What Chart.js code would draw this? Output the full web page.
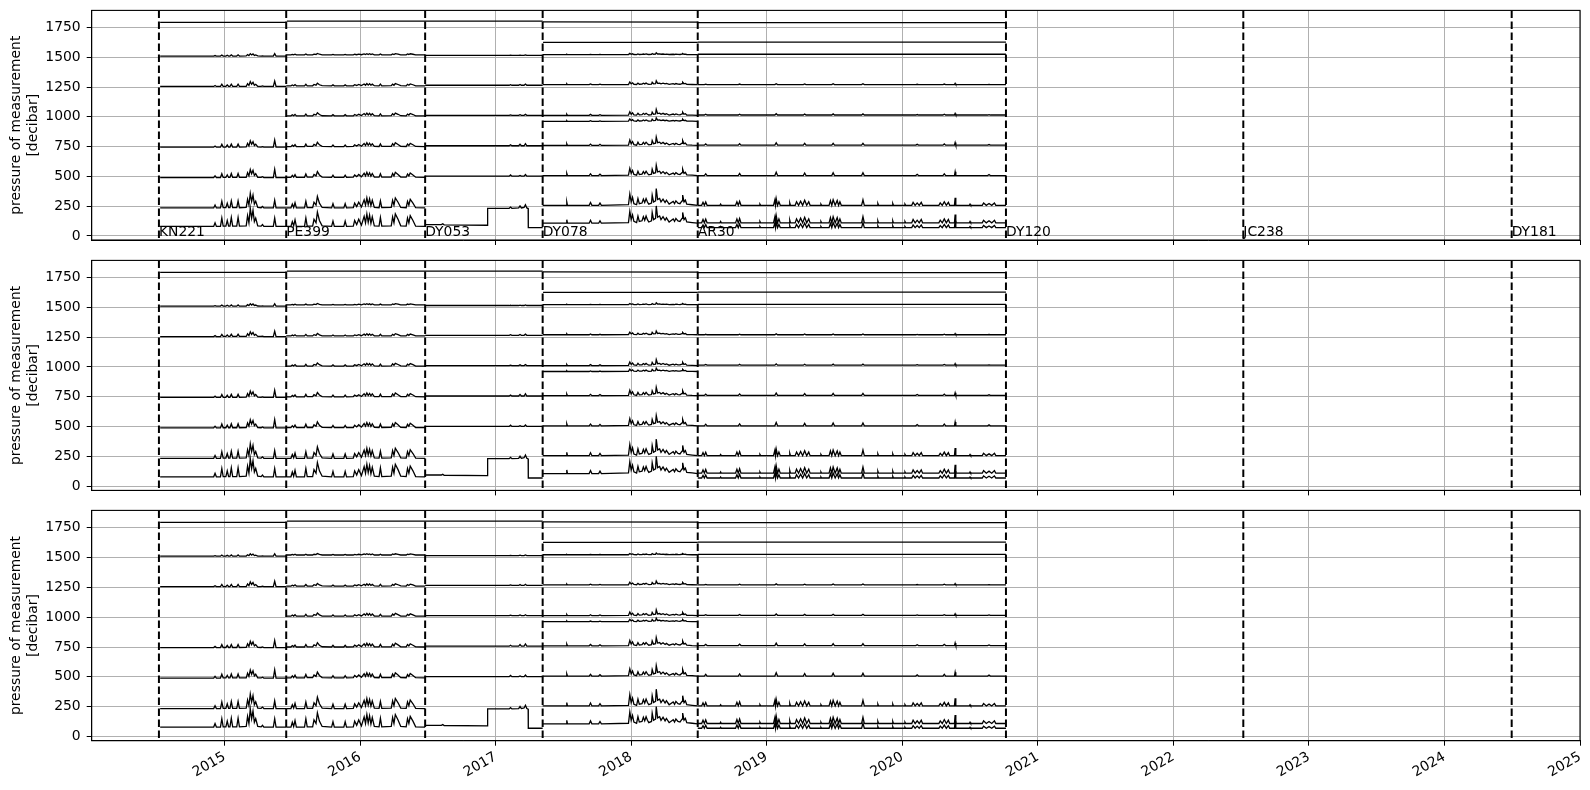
<!DOCTYPE html>
<html><head><meta charset="utf-8">
<script src="https://cdn.jsdelivr.net/npm/chart.js@4.4.1/dist/chart.umd.min.js"></script>
<style>
body{margin:0;background:#fff;width:1590px;height:790px;overflow:hidden;position:relative}
canvas{position:absolute;left:0}
</style></head>
<body>
<canvas id="c1" width="1590" height="250" style="top:0px"></canvas>
<canvas id="c2" width="1590" height="250" style="top:250px"></canvas>
<canvas id="c3" width="1590" height="290" style="top:500px"></canvas>
<script>
// ---- axis / tick labels ----
const yearTicks = [2015,2016,2017,2018,2019,2020,2021,2022,2023,2024,2025];
const pressureTicks = [0,250,500,750,1000,1250,1500,1750];
const yTitle = ['pressure of measurement','[decibar]'];

// ---- cruises (decimal year) ----
const cruiseNames = ['KN221','PE399','DY053','DY078','AR30','DY120','JC238','DY181'];
const cruiseDates = [2014.516,2015.455,2016.48,2017.347,2018.491,2020.765,2022.516,2024.496];

// ---- deployment 1 (KN221 -> PE399) ----
const d1Time = [2014.525,2014.92,2014.93,2014.94,2014.97,2014.98,2014.99,2015.01,2015.02,2015.03,2015.04,2015.05,2015.06,2015.09,2015.10,2015.11,2015.16,2015.17,2015.18,2015.19,2015.20,2015.21,2015.22,2015.23,2015.245,2015.27,2015.28,2015.29,2015.36,2015.37,2015.38,2015.455];
const d1P80 = [80,80,110,80,80,150,82,82,130,82,82,155,82,82,155,82,85,170,110,232,150,215,120,150,85,82,95,80,80,150,80,80];
const d1P235 = [235,235,259,235,235,291,237,237,275,237,237,295,237,237,295,237,239,307,259,357,291,343,267,291,239,237,247,235,235,300,235,235];
const d1P490 = [490,490,504,490,490,522,491,491,513,491,491,524,491,491,524,491,492,531,504,558,522,551,508,522,492,491,497,490,490,560,490,490];
const d1P745 = [745,745,755,745,745,770,746,746,763,746,746,771,746,746,771,746,747,777,755,798,770,792,759,770,747,746,750,745,745,805,745,745];
const d1P1255 = [1255,1255,1263,1255,1255,1273,1256,1256,1268,1256,1256,1274,1256,1256,1274,1256,1256,1278,1263,1295,1273,1289,1265,1273,1256,1256,1259,1255,1255,1300,1255,1255];
const d1P1510 = [1510,1510,1514,1510,1510,1519,1510,1510,1517,1510,1510,1520,1510,1510,1520,1510,1511,1522,1514,1530,1519,1528,1515,1519,1511,1510,1512,1510,1510,1530,1510,1510];
const d1Span = [2014.525,2015.455];
const d1P1792 = [1792,1792];

// ---- deployment 2 (PE399 -> DY053) ----
const d2Time = [2015.455,2015.49,2015.50,2015.51,2015.52,2015.53,2015.59,2015.60,2015.61,2015.65,2015.66,2015.675,2015.685,2015.70,2015.72,2015.79,2015.80,2015.81,2015.88,2015.89,2015.90,2015.95,2015.96,2015.975,2015.99,2016.01,2016.03,2016.04,2016.05,2016.06,2016.07,2016.08,2016.09,2016.105,2016.14,2016.15,2016.16,2016.23,2016.24,2016.25,2016.26,2016.28,2016.30,2016.34,2016.35,2016.36,2016.37,2016.39,2016.41,2016.48];
const d2P80 = [80,80,120,85,135,80,80,150,82,82,140,110,200,130,85,80,125,80,80,125,80,82,130,95,140,90,165,110,185,115,175,105,160,85,82,155,82,85,160,110,185,140,85,82,150,110,170,130,82,80];
const d2P235 = [235,235,267,239,279,235,235,291,237,237,283,259,331,275,239,235,271,235,235,271,235,237,275,247,283,243,303,259,319,263,311,255,299,239,237,295,237,239,299,259,319,283,239,237,291,259,307,275,237,235];
const d2P492 = [492,492,508,494,514,492,492,520,493,493,516,504,540,512,494,492,510,492,492,510,492,493,512,498,516,496,526,504,534,506,530,502,524,494,493,522,493,494,524,504,534,516,494,493,520,504,528,512,493,492];
const d2P750 = [750,750,762,752,766,750,750,771,751,751,768,759,786,765,752,750,764,750,750,764,750,751,765,755,768,753,776,759,782,761,778,758,774,752,751,772,751,752,774,759,782,768,752,751,771,759,777,765,751,750];
const d2P1008 = [1008,1008,1017,1009,1020,1008,1008,1023,1008,1008,1021,1015,1034,1019,1009,1008,1018,1008,1008,1018,1008,1008,1019,1011,1021,1010,1027,1015,1031,1016,1029,1013,1026,1009,1008,1024,1008,1009,1026,1015,1031,1021,1009,1008,1023,1015,1028,1019,1008,1008];
const d2P1260 = [1260,1260,1267,1261,1270,1260,1260,1273,1260,1260,1271,1265,1282,1269,1261,1260,1268,1260,1260,1268,1260,1260,1269,1263,1271,1262,1275,1265,1279,1266,1277,1265,1274,1261,1260,1274,1260,1261,1274,1265,1279,1271,1261,1260,1273,1265,1276,1269,1260,1260];
const d2P1520 = [1520,1520,1524,1520,1526,1520,1520,1527,1520,1520,1526,1523,1532,1525,1520,1520,1524,1520,1520,1524,1520,1520,1525,1521,1526,1521,1528,1523,1530,1523,1529,1522,1528,1520,1520,1527,1520,1520,1528,1523,1530,1526,1520,1520,1527,1523,1529,1525,1520,1520];
const d23Span = [2015.46,2017.347];
const d23P1803 = [1803,1803];

// ---- deployment 3 (DY053 -> DY078) ----
const d3Time = [2016.48,2017.10,2017.11,2017.12,2017.17,2017.18,2017.19,2017.21,2017.22,2017.23,2017.347];
const d3P502 = [502,502,512,502,502,508,502,502,515,502,502];
const d3P757 = [757,757,765,757,757,770,757,757,775,757,757];
const d3P1012 = [1012,1012,1016,1012,1012,1018,1012,1012,1020,1012,1012];
const d3P1265 = [1265,1265,1270,1265,1265,1272,1265,1265,1275,1265,1265];
const d3P1515 = [1515,1515,1517,1515,1515,1518,1515,1515,1520,1515,1515];
const d3BottomTime = [2016.48,2016.60,2016.61,2016.62,2016.94,2016.941,2017.10,2017.11,2017.12,2017.17,2017.18,2017.19,2017.21,2017.22,2017.23,2017.24,2017.241,2017.347];
const d3Bottom = [95,95,102,93,90,232,232,242,232,235,252,235,240,262,235,230,70,70];

// ---- deployment 4 (DY078 -> AR30) ----
const d4Time = [2017.347,2017.52,2017.525,2017.53,2017.69,2017.70,2017.71,2017.76,2017.77,2017.78,2017.98,2017.99,2018.00,2018.01,2018.02,2018.04,2018.05,2018.06,2018.08,2018.09,2018.10,2018.11,2018.12,2018.13,2018.15,2018.155,2018.165,2018.18,2018.185,2018.195,2018.21,2018.22,2018.235,2018.25,2018.26,2018.28,2018.31,2018.32,2018.33,2018.345,2018.36,2018.375,2018.38,2018.39,2018.40,2018.41,2018.45,2018.491];
const d4P107 = [107,107,137,107,107,132,107,107,127,107,112,207,137,177,122,112,167,122,127,162,132,167,137,117,127,197,137,147,252,157,167,137,162,132,152,117,142,122,147,127,122,147,197,137,152,117,112,107];
const d4P257 = [257,257,285,257,257,281,257,257,276,257,262,352,285,323,271,262,314,271,276,309,281,314,285,267,276,343,285,295,397,305,314,285,309,281,300,267,290,271,295,276,271,295,343,285,300,267,262,257];
const d4P507 = [507,507,525,507,507,522,507,507,519,507,510,567,525,549,516,510,543,516,519,540,522,543,525,513,519,561,525,531,594,537,543,525,540,522,534,513,528,516,531,519,516,531,561,525,534,513,510,507];
const d4P760 = [760,760,774,760,760,771,760,760,769,760,762,805,774,792,767,762,787,767,769,785,771,787,774,765,769,801,774,778,830,783,787,774,785,771,780,765,776,767,778,769,767,778,801,774,780,765,762,760];
const d4P962 = [962,962,968,962,962,967,962,962,966,962,963,982,968,976,965,963,974,965,966,973,967,974,968,964,966,980,968,970,991,972,974,968,973,967,971,964,969,965,970,966,965,970,980,968,971,964,963,962];
const d4P1012 = [1012,1012,1021,1012,1012,1020,1012,1012,1018,1012,1014,1042,1021,1033,1017,1014,1030,1017,1018,1029,1020,1030,1021,1015,1018,1039,1021,1024,1062,1027,1030,1021,1029,1020,1026,1015,1023,1017,1024,1018,1017,1024,1039,1021,1026,1015,1014,1012];
const d4P1270 = [1270,1270,1277,1270,1270,1276,1270,1270,1274,1270,1271,1292,1277,1285,1273,1271,1283,1273,1274,1282,1276,1283,1277,1272,1274,1290,1277,1279,1302,1281,1283,1277,1282,1276,1280,1272,1278,1273,1279,1274,1273,1279,1290,1277,1280,1272,1271,1270];
const d4P1522 = [1522,1522,1525,1522,1522,1524,1522,1522,1524,1522,1522,1532,1525,1529,1523,1522,1528,1523,1524,1527,1524,1528,1525,1523,1524,1531,1525,1526,1537,1527,1528,1525,1527,1524,1526,1523,1525,1523,1526,1524,1523,1526,1531,1525,1526,1523,1522,1522];
const d4Span = [2017.35,2018.491];
const d4P1797 = [1797,1795];
const d4P1625 = [1625,1625];

// ---- deployment 5 (AR30 -> DY120) ----
const d5Time = [2018.491,2018.52,2018.53,2018.54,2018.55,2018.56,2018.655,2018.66,2018.665,2018.77,
 2018.78,2018.79,2018.80,2018.81,2018.945,2018.95,2018.955,2019.05,2019.06,2019.065,
 2019.07,2019.08,2019.09,2019.10,2019.165,2019.17,2019.175,2019.21,2019.22,2019.235,
 2019.25,2019.265,2019.28,2019.295,2019.31,2019.32,2019.395,2019.40,2019.405,2019.46,
 2019.47,2019.48,2019.49,2019.505,2019.52,2019.53,2019.54,2019.55,2019.70,2019.71,
 2019.72,2019.815,2019.82,2019.825,2019.925,2019.93,2019.935,2020.015,2020.02,2020.025,
 2020.07,2020.08,2020.095,2020.11,2020.125,2020.14,2020.15,2020.27,2020.28,2020.295,
 2020.31,2020.325,2020.34,2020.35,2020.385,2020.39,2020.395,2020.495,2020.50,2020.505,
 2020.59,2020.60,2020.62,2020.64,2020.66,2020.68,2020.69,2020.765];
const d5P257 = [257,257,282,257,285,257,257,267,257,257,287,257,291,257,257,267,257,257,302,257,
 313,257,287,257,257,277,257,257,287,257,292,257,299,257,287,257,257,267,257,257,
 297,257,304,257,297,257,287,257,257,304,257,257,272,257,257,272,257,257,267,257,
 257,282,257,277,257,282,257,257,277,257,287,257,282,257,257,321,257,257,267,257,
 257,277,257,272,257,277,257,257];
const d5P110 = [110,110,138,110,141,110,110,121,110,110,143,110,147,110,110,121,110,110,160,110,
 172,110,143,110,110,132,110,110,143,110,149,110,156,110,143,110,110,121,110,110,
 154,110,162,110,154,110,143,110,110,162,110,110,127,110,110,127,110,110,121,110,
 110,138,110,132,110,138,110,110,132,110,143,110,138,110,110,180,110,110,121,110,
 110,132,110,127,110,132,110,110];
const d5P70 = [70,70,92,70,95,70,70,79,70,70,97,70,101,70,70,79,70,70,110,70,
 120,70,97,70,70,88,70,70,97,70,102,70,108,70,97,70,70,79,70,70,
 106,70,112,70,106,70,97,70,70,112,70,70,84,70,70,84,70,70,79,70,
 70,92,70,88,70,92,70,70,88,70,97,70,92,70,70,128,70,70,79,70,
 70,88,70,84,70,88,70,70];
const d5TimeB = [2018.491,2018.54,2018.55,2018.56,2018.79,2018.80,2018.81,2019.06,2019.07,2019.08,2019.27,2019.28,2019.29,2019.48,2019.49,2019.50,2019.70,2019.71,2019.72,2020.10,2020.11,2020.12,2020.30,2020.31,2020.32,2020.385,2020.39,2020.395,2020.63,2020.64,2020.65,2020.765];
const d5P507 = [507,507,521,507,507,524,507,507,535,507,507,528,507,507,531,507,507,531,507,507,517,507,507,522,507,507,539,507,507,515,507,507];
const d5P762 = [762,762,772,762,762,774,762,762,782,762,762,777,762,762,778,762,762,778,762,762,769,762,762,772,762,762,784,762,762,767,762,762];
const d5P1015 = [1015,1015,1021,1015,1015,1022,1015,1015,1026,1015,1015,1023,1015,1015,1024,1015,1015,1024,1015,1015,1019,1015,1015,1021,1015,1015,1028,1015,1015,1018,1015,1015];
const d5P1270 = [1270,1270,1274,1270,1270,1275,1270,1270,1278,1270,1270,1276,1270,1270,1277,1270,1270,1277,1270,1270,1273,1270,1270,1275,1270,1270,1280,1270,1270,1272,1270,1270];
const d5Span = [2018.491,2020.765];
const d5P1790 = [1790,1790];
const d5P1627 = [1627,1627];
const d5P1525 = [1525,1525];

const seriesList = [
  [d1Span,d1P1792],[d1Time,d1P1510],[d1Time,d1P1255],[d1Time,d1P745],[d1Time,d1P490],[d1Time,d1P235],[d1Time,d1P80],
  [d2Time,d2P1520],[d2Time,d2P1260],[d2Time,d2P1008],[d2Time,d2P750],[d2Time,d2P492],[d2Time,d2P235],[d2Time,d2P80],
  [d23Span,d23P1803],
  [d3Time,d3P1515],[d3Time,d3P1265],[d3Time,d3P1012],[d3Time,d3P757],[d3Time,d3P502],[d3BottomTime,d3Bottom],
  [d4Span,d4P1797],[d4Span,d4P1625],[d4Time,d4P1522],[d4Time,d4P1270],[d4Time,d4P1012],[d4Time,d4P962],[d4Time,d4P760],[d4Time,d4P507],[d4Time,d4P257],[d4Time,d4P107],
  [d5Span,d5P1790],[d5Span,d5P1627],[d5Span,d5P1525],[d5TimeB,d5P1270],[d5TimeB,d5P1015],[d5TimeB,d5P762],[d5TimeB,d5P507],[d5Time,d5P257],[d5Time,d5P110],[d5Time,d5P70]
];

// ---- drawing ----
const FONT = {family:'"DejaVu Sans"', size:13.9};
Chart.defaults.color = '#000';
Chart.defaults.font.family = '"DejaVu Sans"';

const X_MIN = 2014.02, X_MAX = 2025.0, Y_MIN = -34, Y_MAX = 1893;

const overlayPlugin = {
  id:'overlay',
  afterDatasetsDraw(chart, args, opts){
    const {ctx, chartArea:a, scales:{x,y}} = chart;
    ctx.save();
    ctx.beginPath(); ctx.rect(a.left, a.top, a.right-a.left, a.bottom-a.top); ctx.clip();
    ctx.strokeStyle = '#000'; ctx.lineWidth = 2; ctx.setLineDash([7.7,3.3]);
    cruiseDates.forEach(d=>{
      const px = x.getPixelForValue(d);
      ctx.beginPath(); ctx.moveTo(px, a.top); ctx.lineTo(px, a.bottom); ctx.stroke();
    });
    ctx.setLineDash([]);
    if (opts.labels){
      ctx.fillStyle = '#000';
      ctx.font = '13.9px "DejaVu Sans"';
      ctx.textAlign = 'left'; ctx.textBaseline = 'alphabetic';
      cruiseNames.forEach((n,i)=>{
        ctx.fillText(n, x.getPixelForValue(cruiseDates[i]), y.getPixelForValue(0));
      });
    }
    ctx.restore();
    ctx.save();
    ctx.strokeStyle = '#000'; ctx.lineWidth = 1.1;
    ctx.strokeRect(a.left, a.top, a.right-a.left, a.bottom-a.top);
    ctx.restore();
  }
};

function makePanel(id, xHeight, showYearLabels, showCruiseLabels){
  const datasets = seriesList.map(([t,v])=>({
    data: t.map((tt,i)=>({x:tt, y:v[i]})),
    borderColor:'#000', borderWidth:1.3, pointRadius:0, tension:0, fill:false
  }));
  return new Chart(document.getElementById(id), {
    type:'line',
    data:{datasets},
    options:{
      responsive:false, animation:false, events:[],
      layout:{padding:{top:10.4, right:10, left:0, bottom:0}},
      plugins:{legend:{display:false}, tooltip:{enabled:false}, overlay:{labels:showCruiseLabels}},
      scales:{
        x:{
          type:'linear', min:X_MIN, max:X_MAX,
          afterBuildTicks:s=>{ s.ticks = yearTicks.map(v=>({value:v})); },
          afterFit:s=>{ s.height = xHeight; s.paddingLeft = 0; s.paddingRight = 0; },
          grid:{color:'#b0b0b0', lineWidth:1, tickColor:'#000', tickLength:5, tickWidth:1},
          border:{color:'#000', width:1},
          ticks:{autoSkip:false, minRotation:30, maxRotation:30, padding:3, font:FONT, color:'#000',
                 callback:(v)=> showYearLabels ? String(v) : ''}
        },
        y:{
          type:'linear', min:Y_MIN, max:Y_MAX,
          afterBuildTicks:s=>{ s.ticks = pressureTicks.map(v=>({value:v})); },
          afterFit:s=>{ s.width = 91.7; s.paddingTop = 0; s.paddingBottom = 0; },
          grid:{color:'#b0b0b0', lineWidth:1, tickColor:'#000', tickLength:5, tickWidth:1},
          border:{color:'#000', width:1},
          ticks:{padding:6, font:FONT, color:'#000', callback:(v)=>String(v)},
          title:{display:true, text:yTitle, font:{family:'"DejaVu Sans"', size:13.9, lineHeight:1.2}, color:'#000', padding:{top:8.5, bottom:0}}
        }
      }
    },
    plugins:[overlayPlugin]
  });
}

makePanel('c1', 10, false, true);
makePanel('c2', 9.6, false, false);
makePanel('c3', 49.3, true, false);
</script>
</body></html>
